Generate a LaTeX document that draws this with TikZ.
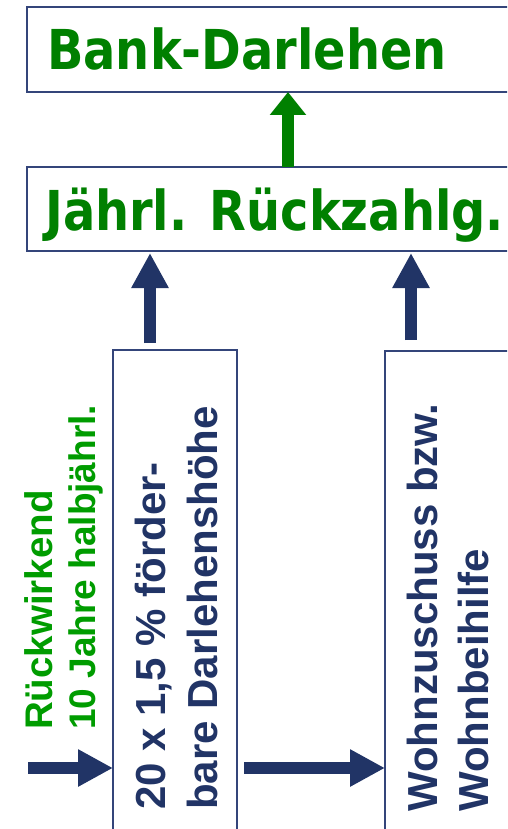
\documentclass[tikz,border=0pt]{standalone}
\usepackage{fontspec}
\newfontfamily\tahf{DejaVu Sans}[FakeStretch=0.87]
\newfontfamily\arf{Liberation Sans}
\usetikzlibrary{arrows.meta}
\definecolor{dgreen}{HTML}{008000}
\definecolor{lgreen}{HTML}{009C00}
\definecolor{dblue}{HTML}{213466}
\definecolor{bline}{HTML}{34457A}
\begin{document}
\begin{tikzpicture}[x=1pt,y=-1pt,
  box/.style={draw=bline, line width=1.6pt, rectangle, inner sep=0pt, outer sep=0pt, anchor=north west},
  headtxt/.style={anchor=base west, inner sep=0pt, text=dgreen, font=\tahf\bfseries\fontsize{55}{60}\selectfont},
  vtxt/.style={rotate=90, anchor=base west, inner sep=0pt, text=dblue, font=\arf\bfseries\fontsize{42}{48}\selectfont},
  gtxt/.style={rotate=90, anchor=base west, inner sep=0pt, text=lgreen, font=\arf\bfseries\fontsize{37}{42}\selectfont},
  garrow/.style={draw=dgreen, line width=12pt, -{Triangle[width=35pt,length=23pt]}},
  barrow/.style={draw=dblue, line width=11.7pt, -{Triangle[width=35pt,length=35pt]}}]
\useasboundingbox (0,0) rectangle (507,829);
\clip (0,0) rectangle (507,829);
\fill[white] (0,0) rectangle (507,829);
% boxes
\node[box, minimum width=520pt, minimum height=85pt] (bank) at (27,7) {};
\node[box, minimum width=520pt, minimum height=84pt] (rz) at (27,167) {};
\node[box, minimum width=124pt, minimum height=520pt] (foerd) at (113,350) {};
\node[box, minimum width=200pt, minimum height=520pt] (wohn) at (385,351) {};
% texts
\node[headtxt] (tbank) at (47,70) {Bank-Darlehen};
\node[headtxt] (trz) at (45,230) {Jährl. Rückzahlg.};
\node[vtxt] (tf1) at (165,810) {20 x 1,5 \% förder-};
\node[vtxt] (tf2) at (217,810) {bare Darlehenshöhe};
\node[vtxt] (tw1) at (437,812) {Wohnzuschuss bzw.};
\node[vtxt] (tw2) at (488,812) {Wohnbeihilfe};
\node[gtxt, font=\arf\bfseries\fontsize{38.5}{42}\selectfont] (tg1) at (52,730) {Rückwirkend};
\node[gtxt] (tg2) at (95,730) {10 Jahre halbjährl.};
% arrows
\coordinate (xg) at (288,0);
\coordinate (xb1) at (150,0);
\coordinate (xb2) at (411,0);
\coordinate (lstart) at (28,768);
\draw[garrow] (rz.north -| xg) -- (bank.south -| xg);
\draw[barrow, shorten <=7pt, shorten >=2pt] (foerd.north -| xb1) -- (rz.south -| xb1);
\draw[barrow, shorten <=11pt, shorten >=2pt] (wohn.north -| xb2) -- (rz.south -| xb2);
\draw[barrow] (lstart) -- (foerd.west |- lstart);
\draw[barrow, shorten <=7pt] (foerd.east |- lstart) -- (wohn.west |- lstart);
\end{tikzpicture}
\end{document}
